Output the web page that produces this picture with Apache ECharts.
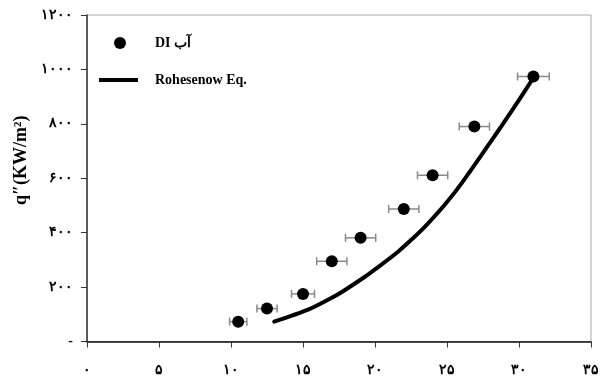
<!DOCTYPE html>
<html><head><meta charset="utf-8">
<script src="https://cdn.jsdelivr.net/npm/echarts@6/dist/echarts.min.js"></script>
<style>html,body{margin:0;padding:0;background:#fff}#c{width:602px;height:378px}</style>
</head><body><div id="c"></div>
<script>
const expDeltaT = [10.5, 12.5, 15.0, 17.0, 19.0, 22.0, 24.0, 26.9, 31.0];
const expHeatFlux = [73, 121, 175, 295, 381, 487, 611, 790, 974];
const expDeltaTErr = [0.6, 0.7, 0.8, 1.05, 1.05, 1.05, 1.05, 1.05, 1.1];
const corrDeltaT = [13.0, 15.4, 16.8, 17.7, 19.3, 20.0, 21.6, 22.75, 23.44, 24.93, 26.2, 28.5, 29.9, 30.9];
const corrHeatFlux = [73, 118, 155, 182, 238, 265, 330, 385, 420, 508, 595, 770, 880, 961];
const xTickLabels = ['۰','۵','۱۰','۱۵','۲۰','۲۵','۳۰','۳۵'];
const yTickLabels = ['-','۲۰۰','۴۰۰','۶۰۰','۸۰۰','۱۰۰۰','۱۲۰۰'];
const seriesNames = ['DI آب', 'Rohesenow Eq.'];
const yAxisTitle = 'q″(KW/m²)';

const font = "'Liberation Serif', 'DejaVu Serif', serif";
const expData = expDeltaT.map((x, i) => [x, expHeatFlux[i]]);
const errData = expDeltaT.map((x, i) => [x, expHeatFlux[i], expDeltaTErr[i]]);
const corrData = corrDeltaT.map((x, i) => [x, corrHeatFlux[i]]);

const chart = echarts.init(document.getElementById('c'), null, {renderer: 'canvas'});
chart.setOption({
  animation: false,
  backgroundColor: '#fff',
  grid: {left: 87, right: 8, top: 15, bottom: 36.5, show: true, borderColor: '#a8a8a8', borderWidth: 1, backgroundColor: 'transparent'},
  legend: [
    {data: [seriesNames[0]], left: 114, top: 36, padding: 0, orient: 'vertical', icon: 'circle', itemWidth: 12, itemHeight: 12,
     textStyle: {fontFamily: font, fontWeight: 'bold', fontSize: 14, color: '#000', padding: [0, 0, 0, 24]}},
    {data: [seriesNames[1]], left: 99, top: 73, padding: 0, orient: 'vertical', icon: 'rect', itemWidth: 39, itemHeight: 4,
     textStyle: {fontFamily: font, fontWeight: 'bold', fontSize: 14, color: '#000', padding: [0, 0, 0, 12]}}
  ],
  xAxis: {
    type: 'value', min: 0, max: 35, interval: 5,
    axisLine: {show: true, lineStyle: {color: '#111', width: 1.5}},
    axisTick: {show: true, inside: false, length: 6, lineStyle: {color: '#333', width: 1}},
    splitLine: {show: false},
    axisLabel: {margin: 22, fontFamily: font, fontWeight: 'bold', fontSize: 14, color: '#000',
      formatter: v => xTickLabels[Math.round(v / 5)]}
  },
  yAxis: {
    type: 'value', min: 0, max: 1200, interval: 200,
    name: yAxisTitle, nameLocation: 'middle', nameGap: 53, nameRotate: 90,
    nameTextStyle: {fontFamily: font, fontWeight: 'bold', fontSize: 18, color: '#000', padding: [0, 0, 0, 36]},
    axisLine: {show: true, lineStyle: {color: '#333', width: 1.5}},
    axisTick: {show: true, inside: false, length: 6, lineStyle: {color: '#333', width: 1}},
    splitLine: {show: false},
    axisLabel: {margin: 14, fontFamily: font, fontWeight: 'bold', fontSize: 14, color: '#000',
      formatter: v => yTickLabels[Math.round(v / 200)]}
  },
  series: [
    {
      type: 'custom', name: 'err', z: 2, silent: true,
      data: errData, encode: {x: 0, y: 1},
      renderItem: function (params, api) {
        const x = api.value(0), y = api.value(1), e = api.value(2);
        const p1 = api.coord([x - e, y]), p2 = api.coord([x + e, y]);
        const h = 4;
        const st = {stroke: '#8a8a8a', lineWidth: 1.5, fill: null};
        return {type: 'group', children: [
          {type: 'line', shape: {x1: p1[0], y1: p1[1], x2: p2[0], y2: p2[1]}, style: st},
          {type: 'line', shape: {x1: p1[0], y1: p1[1] - h, x2: p1[0], y2: p1[1] + h}, style: st},
          {type: 'line', shape: {x1: p2[0], y1: p2[1] - h, x2: p2[0], y2: p2[1] + h}, style: st}
        ]};
      }
    },
    {
      type: 'line', name: seriesNames[1], data: corrData, smooth: 0.3, symbol: 'none', z: 3,
      lineStyle: {color: '#000', width: 4, cap: 'round'}, itemStyle: {color: '#000'}
    },
    {
      type: 'scatter', name: seriesNames[0], data: expData, symbol: 'circle', symbolSize: 12, z: 4,
      itemStyle: {color: '#000', opacity: 1}
    }
  ]
});
</script></body></html>
